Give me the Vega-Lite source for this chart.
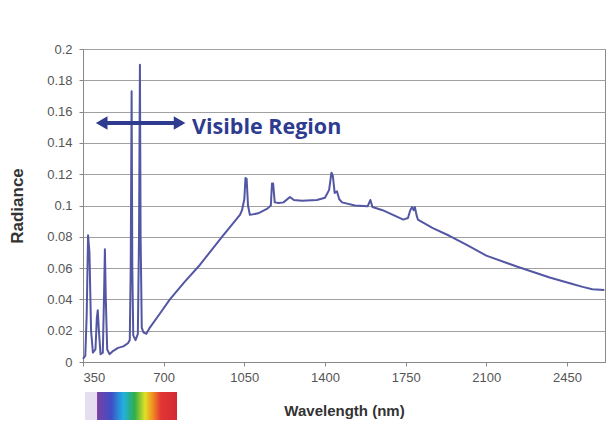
{
  "$schema": "https://vega.github.io/schema/vega-lite/v6.json",
  "width": 522,
  "height": 313,
  "autosize": {"type": "none"},
  "padding": {"left": 83, "top": 49, "right": 7, "bottom": 61},
  "background": "white",
  "config": {
    "view": {"stroke": "#8a8a8a", "strokeWidth": 1},
    "font": "Liberation Sans"
  },
  "datasets": {
    "spectrum": [
      {"nm": 350, "rad": 0.002}, {"nm": 360, "rad": 0.004}, {"nm": 366, "rad": 0.03},
      {"nm": 372, "rad": 0.081}, {"nm": 378, "rad": 0.07}, {"nm": 385, "rad": 0.02},
      {"nm": 393, "rad": 0.006}, {"nm": 404, "rad": 0.008}, {"nm": 410, "rad": 0.028},
      {"nm": 414, "rad": 0.033}, {"nm": 419, "rad": 0.02}, {"nm": 426, "rad": 0.005},
      {"nm": 436, "rad": 0.006}, {"nm": 441, "rad": 0.04}, {"nm": 445, "rad": 0.072},
      {"nm": 449, "rad": 0.04}, {"nm": 455, "rad": 0.008}, {"nm": 465, "rad": 0.005},
      {"nm": 480, "rad": 0.007}, {"nm": 502, "rad": 0.009}, {"nm": 525, "rad": 0.01},
      {"nm": 545, "rad": 0.012}, {"nm": 553, "rad": 0.014}, {"nm": 557, "rad": 0.06},
      {"nm": 561, "rad": 0.173}, {"nm": 564, "rad": 0.06}, {"nm": 568, "rad": 0.017},
      {"nm": 578, "rad": 0.014}, {"nm": 588, "rad": 0.018}, {"nm": 593, "rad": 0.08},
      {"nm": 597, "rad": 0.19}, {"nm": 600, "rad": 0.08}, {"nm": 605, "rad": 0.022},
      {"nm": 612, "rad": 0.019}, {"nm": 625, "rad": 0.018}, {"nm": 640, "rad": 0.022},
      {"nm": 684, "rad": 0.031}, {"nm": 727, "rad": 0.04}, {"nm": 790, "rad": 0.051},
      {"nm": 857, "rad": 0.062}, {"nm": 953, "rad": 0.08}, {"nm": 1031, "rad": 0.094},
      {"nm": 1040, "rad": 0.097}, {"nm": 1050, "rad": 0.104}, {"nm": 1055, "rad": 0.1176},
      {"nm": 1060, "rad": 0.117}, {"nm": 1066, "rad": 0.1}, {"nm": 1074, "rad": 0.094},
      {"nm": 1110, "rad": 0.095}, {"nm": 1150, "rad": 0.098}, {"nm": 1165, "rad": 0.1},
      {"nm": 1170, "rad": 0.114}, {"nm": 1175, "rad": 0.114}, {"nm": 1182, "rad": 0.102},
      {"nm": 1200, "rad": 0.1016}, {"nm": 1220, "rad": 0.102}, {"nm": 1248, "rad": 0.1054},
      {"nm": 1265, "rad": 0.1035}, {"nm": 1300, "rad": 0.103}, {"nm": 1365, "rad": 0.1035},
      {"nm": 1400, "rad": 0.105}, {"nm": 1418, "rad": 0.11}, {"nm": 1428, "rad": 0.121},
      {"nm": 1434, "rad": 0.119}, {"nm": 1442, "rad": 0.108}, {"nm": 1452, "rad": 0.109},
      {"nm": 1462, "rad": 0.104}, {"nm": 1474, "rad": 0.102}, {"nm": 1530, "rad": 0.1},
      {"nm": 1585, "rad": 0.0995}, {"nm": 1597, "rad": 0.1035}, {"nm": 1606, "rad": 0.099},
      {"nm": 1650, "rad": 0.097}, {"nm": 1695, "rad": 0.094}, {"nm": 1740, "rad": 0.091},
      {"nm": 1760, "rad": 0.092}, {"nm": 1770, "rad": 0.097}, {"nm": 1778, "rad": 0.099},
      {"nm": 1785, "rad": 0.097}, {"nm": 1790, "rad": 0.099}, {"nm": 1797, "rad": 0.094},
      {"nm": 1803, "rad": 0.091}, {"nm": 1868, "rad": 0.0856}, {"nm": 1942, "rad": 0.0805},
      {"nm": 2015, "rad": 0.0748}, {"nm": 2100, "rad": 0.068}, {"nm": 2232, "rad": 0.061},
      {"nm": 2375, "rad": 0.054}, {"nm": 2470, "rad": 0.05}, {"nm": 2518, "rad": 0.048},
      {"nm": 2560, "rad": 0.0465}, {"nm": 2612, "rad": 0.046}
    ]
  },
  "encoding": {
    "x": {
      "field": "nm", "type": "quantitative",
      "scale": {"domain": [350, 2615], "nice": false, "zero": false},
      "axis": {
        "values": [350, 700, 1050, 1400, 1750, 2100, 2450],
        "format": "d",
        "grid": false,
        "title": "Wavelength (nm)",
        "titleFont": "Liberation Sans", "titleFontSize": 15, "titleFontWeight": "bold",
        "titleColor": "#333333", "titlePadding": 19,
        "labelFont": "Liberation Sans", "labelFontSize": 13, "labelColor": "#555555",
        "labelPadding": 5, "tickSize": 4, "tickColor": "#888888",
        "domainColor": "#888888"
      }
    },
    "y": {
      "field": "rad", "type": "quantitative",
      "scale": {"domain": [0, 0.2], "nice": false},
      "axis": {
        "values": [0, 0.02, 0.04, 0.06, 0.08, 0.1, 0.12, 0.14, 0.16, 0.18, 0.2],
        "format": "~g",
        "labelOverlap": false,
        "grid": true, "gridColor": "#a0a0a0", "gridWidth": 1,
        "title": "Radiance",
        "titleFont": "Liberation Sans", "titleFontSize": 17, "titleFontWeight": "bold",
        "titleColor": "#333333", "titlePadding": 20,
        "labelFont": "Liberation Sans", "labelFontSize": 13, "labelColor": "#555555",
        "labelPadding": 7, "tickSize": 4, "tickColor": "#888888",
        "domainColor": "#888888"
      }
    }
  },
  "layer": [
    {
      "data": {"name": "spectrum"},
      "mark": {"type": "line", "color": "#5357a3", "strokeWidth": 2, "strokeJoin": "round"}
    },
    {
      "data": {"values": [{"nm": 440, "nm2": 768, "rad": 0.1527}]},
      "mark": {"type": "rule", "color": "#2e3b8f", "strokeWidth": 4},
      "encoding": {"x2": {"field": "nm2"}}
    },
    {
      "data": {"values": [{"nm": 431, "rad": 0.1527}]},
      "mark": {"type": "point", "shape": "triangle-left", "filled": true, "color": "#2e3b8f", "size": 180, "opacity": 1}
    },
    {
      "data": {"values": [{"nm": 769, "rad": 0.1527}]},
      "mark": {"type": "point", "shape": "triangle-right", "filled": true, "color": "#2e3b8f", "size": 180, "opacity": 1}
    },
    {
      "data": {"values": [{"nm": 823, "rad": 0.1457, "label": "Visible Region"}]},
      "mark": {"type": "text", "align": "left", "baseline": "alphabetic", "font": "Open Sans", "fontSize": 21.5, "fontWeight": "bold", "color": "#2e3b8f"},
      "encoding": {"text": {"field": "label"}}
    },
    {
      "data": {"values": [{"nm": 359, "nm2": 411, "rad": -0.0192, "rad2": -0.0371}]},
      "mark": {"type": "rect", "color": "#e4def0"},
      "encoding": {"x2": {"field": "nm2"}, "y2": {"field": "rad2"}}
    },
    {
      "data": {"values": [{"nm": 411, "nm2": 758, "rad": -0.0192, "rad2": -0.0371}]},
      "mark": {
        "type": "rect",
        "fill": {
          "gradient": "linear", "x1": 0, "y1": 0, "x2": 1, "y2": 0,
          "stops": [
            {"offset": 0, "color": "#7a3fa4"},
            {"offset": 0.18, "color": "#3d4fc6"},
            {"offset": 0.33, "color": "#22b0e2"},
            {"offset": 0.47, "color": "#2fae48"},
            {"offset": 0.6, "color": "#e2e024"},
            {"offset": 0.7, "color": "#f08a22"},
            {"offset": 0.8, "color": "#e23434"},
            {"offset": 1, "color": "#d22a34"}
          ]
        }
      },
      "encoding": {"x2": {"field": "nm2"}, "y2": {"field": "rad2"}}
    }
  ]
}
